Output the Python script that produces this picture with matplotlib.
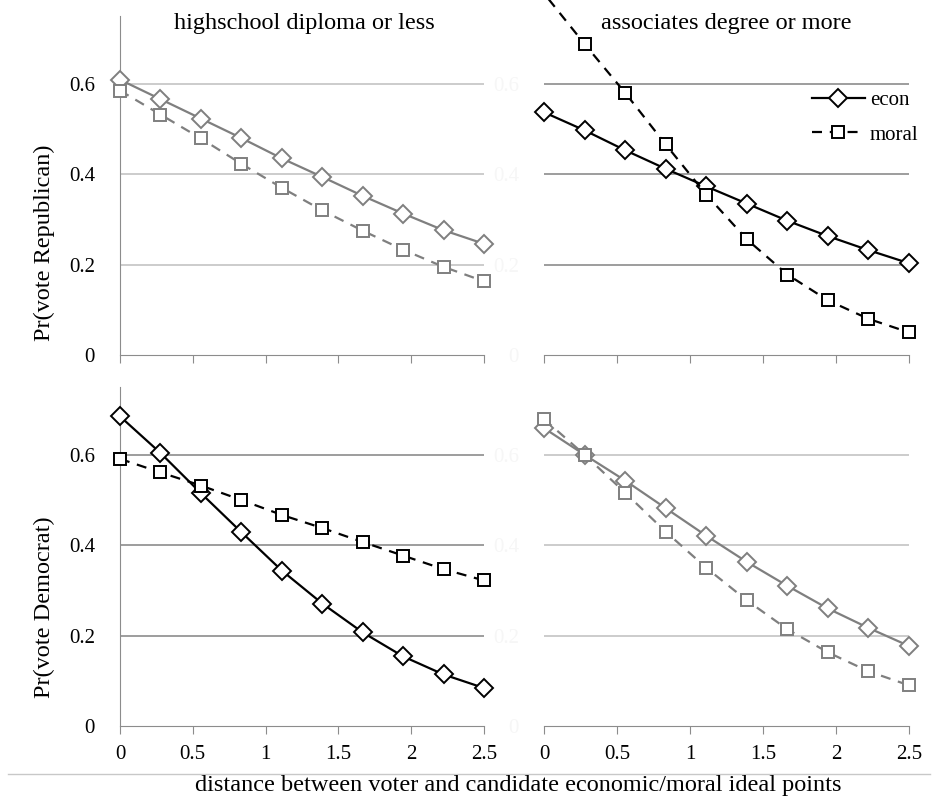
import matplotlib
matplotlib.use("Agg")
import matplotlib.pyplot as plt
from matplotlib.lines import Line2D

plt.rcParams['font.family'] = ['Liberation Serif', 'DejaVu Serif']

# distance between voter and candidate ideal points
distance = [0, 0.278, 0.556, 0.833, 1.111, 1.389, 1.667, 1.944, 2.222, 2.5]

# Pr(vote Republican)
rep_hs_econ = [0.609, 0.566, 0.523, 0.480, 0.435, 0.394, 0.352, 0.313, 0.276, 0.246]
rep_hs_moral = [0.585, 0.532, 0.479, 0.423, 0.370, 0.320, 0.275, 0.233, 0.195, 0.163]
rep_col_econ = [0.537, 0.497, 0.453, 0.412, 0.373, 0.335, 0.297, 0.263, 0.232, 0.203]
rep_col_moral = [0.80, 0.688, 0.580, 0.466, 0.355, 0.256, 0.178, 0.121, 0.080, 0.050]

# Pr(vote Democrat)
dem_hs_econ = [0.685, 0.604, 0.515, 0.429, 0.344, 0.271, 0.207, 0.154, 0.114, 0.084]
dem_hs_moral = [0.591, 0.561, 0.532, 0.500, 0.467, 0.438, 0.407, 0.377, 0.347, 0.322]
dem_col_econ = [0.659, 0.600, 0.543, 0.482, 0.421, 0.363, 0.310, 0.260, 0.217, 0.177]
dem_col_moral = [0.679, 0.600, 0.516, 0.430, 0.350, 0.278, 0.214, 0.163, 0.121, 0.090]

col_titles = ["highschool diploma or less", "associates degree or more"]
row_labels = ["Pr(vote Republican)", "Pr(vote Democrat)"]
yticks = [0, 0.2, 0.4, 0.6]
ytick_labels = ["0", "0.2", "0.4", "0.6"]
xticks = [0, 0.5, 1, 1.5, 2, 2.5]
xtick_labels = ["0", "0.5", "1", "1.5", "2", "2.5"]

W, H = 933, 797
fig = plt.figure(figsize=(W / 100, H / 100), dpi=100)

def px_axes(x0, y0, x1, y1):
    return fig.add_axes([x0 / W, 1 - y1 / H, (x1 - x0) / W, (y1 - y0) / H])

axes = [[px_axes(120, 16, 484, 355), px_axes(544, 16, 909, 355)],
        [px_axes(120, 387, 484, 726), px_axes(544, 387, 909, 726)]]

panels = [
    [(rep_hs_econ, rep_hs_moral, '#7f7f7f', '#c4c4c4'),
     (rep_col_econ, rep_col_moral, 'black', '#8c8c8c')],
    [(dem_hs_econ, dem_hs_moral, 'black', '#8c8c8c'),
     (dem_col_econ, dem_col_moral, '#7f7f7f', '#c4c4c4')],
]

dash = (0, (4.5, 3.5))

for r in range(2):
    for c in range(2):
        ax = axes[r][c]
        econ, moral, color, gridc = panels[r][c]
        ax.set_xlim(0, 2.5)
        ax.set_ylim(0, 0.75)
        for yv in yticks[1:]:
            ax.axhline(yv, color=gridc, lw=1.2, zorder=1)
        ax.plot(distance, econ, color=color, lw=1.6, marker='D', ms=9,
                mfc='white', mec=color, mew=1.4, label='econ', zorder=3,
                clip_on=False)
        ax.plot(distance, moral, color=color, lw=1.6, ls=dash, marker='s',
                ms=8.5, mfc='white', mec=color, mew=1.4, label='moral', zorder=3,
                clip_on=False)
        for side in ['top', 'right']:
            ax.spines[side].set_visible(False)
        ax.spines['bottom'].set_color('#8c8c8c')
        ax.spines['left'].set_color('#8c8c8c')
        if c == 1:
            ax.spines['left'].set_visible(False)
        ax.set_xticks(xticks)
        ax.tick_params(axis='x', direction='out', length=6, color='#8c8c8c',
                       labelsize=15, pad=8)
        if r == 0:
            ax.set_xticklabels([])
        else:
            ax.set_xticklabels(xtick_labels)
        ax.set_yticks(yticks)
        ax.set_yticklabels(ytick_labels)
        ax.tick_params(axis='y', length=0, labelsize=15, pad=18,
                       labelcolor='black' if c == 0 else '#f6f6f6')
        ax.patch.set_alpha(0)

# column headings
fig.text(304 / W, 1 - 24 / H, col_titles[0], ha='center', va='center', fontsize=17.5)
fig.text(726 / W, 1 - 24 / H, col_titles[1], ha='center', va='center', fontsize=17.5)

# row labels
fig.text(44 / W, 1 - 243 / H, row_labels[0], ha='center', va='center',
         rotation=90, fontsize=17.5)
fig.text(44 / W, 1 - 607 / H, row_labels[1], ha='center', va='center',
         rotation=90, fontsize=17.5)

# legend in the upper right panel
axes[0][1].legend(loc='upper left', bbox_to_anchor=(802 / W, 1 - 80 / H),
                  bbox_transform=fig.transFigure, frameon=False,
                  fontsize=15, handlelength=2.5, handletextpad=0.25,
                  labelspacing=0.72, borderpad=0)

# separator and shared x label
fig.add_artist(Line2D([8 / W, 930 / W], [1 - 774 / H, 1 - 774 / H],
                      transform=fig.transFigure, color='#c8c8c8', lw=1))
fig.text(518 / W, 1 - 785 / H,
         "distance between voter and candidate economic/moral ideal points",
         ha='center', va='center', fontsize=17.5)

fig.savefig("out.png", dpi=100)
